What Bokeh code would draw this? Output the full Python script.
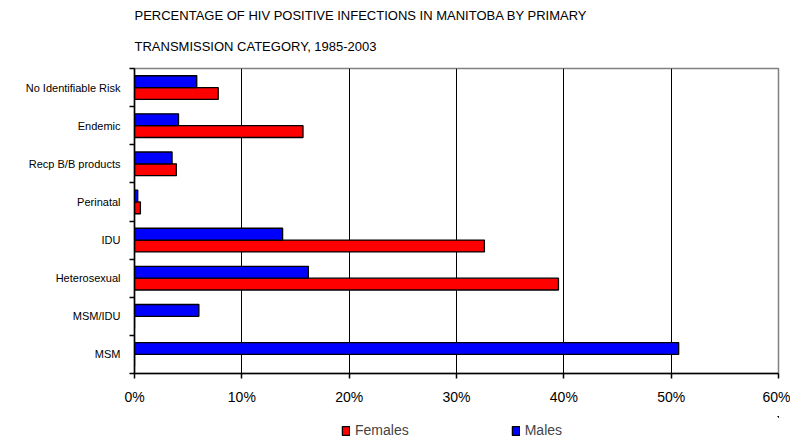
from bokeh.plotting import figure
from bokeh.layouts import column
from bokeh.models import (ColumnDataSource, Range1d, FixedTicker,
                          NumeralTickFormatter, Title, Legend, LegendItem)
from bokeh.embed import file_html
from bokeh.resources import INLINE

# Categories bottom to top
categories = ["MSM", "MSM/IDU", "Heterosexual", "IDU", "Perinatal",
              "Recp B/B products", "Endemic", "No Identifiable Risk"]
females = [0.0, 0.0, 0.395, 0.326, 0.0055, 0.039, 0.157, 0.078]
males = [0.507, 0.060, 0.162, 0.138, 0.003, 0.035, 0.041, 0.058]
x_ticks = [0, 0.1, 0.2, 0.3, 0.4, 0.5, 0.6]
series_names = ["Females", "Males"]
series_colors = ["#ff0000", "#0000ff"]

n = len(categories)
centers = [i + 0.5 for i in range(n)]
BAR_H = 0.31
src = ColumnDataSource(dict(cat=categories, females=females, males=males,
                            yf=[c - BAR_H / 2 for c in centers],
                            ym=[c + BAR_H / 2 for c in centers]))

FONT = "Liberation Sans"
W = 790
LEFT, RIGHT = 134, 12

p = figure(width=W, height=413, y_range=Range1d(0, n),
           x_range=Range1d(0, 0.6), output_backend="svg", toolbar_location=None,
           min_border_left=LEFT, min_border_right=RIGHT, min_border_top=68, min_border_bottom=40)

p.hbar(y="yf", right="females", height=BAR_H, left=0,
       source=src, fill_color=series_colors[0], line_color="black", line_width=1.3)
p.hbar(y="ym", right="males", height=BAR_H, left=0,
       source=src, fill_color=series_colors[1], line_color="black", line_width=1.3)

# x axis
p.xaxis.ticker = FixedTicker(ticks=x_ticks)
p.xaxis.formatter = NumeralTickFormatter(format="0%")
p.xaxis.major_label_text_font = FONT
p.xaxis.major_label_text_font_size = "14px"
p.xaxis.major_label_text_color = "black"
p.xaxis.axis_line_color = "black"
p.xaxis.axis_line_width = 1.5
p.xaxis.major_tick_line_color = "black"
p.xaxis.major_tick_line_width = 1.5
p.xaxis.major_tick_out = 5
p.xaxis.major_tick_in = 0
p.xaxis.minor_tick_line_color = None
p.xaxis.major_label_standoff = 10

# y axis: labels at band centres, tick marks at band boundaries
p.yaxis.ticker = FixedTicker(ticks=centers, minor_ticks=list(range(n + 1)))
p.yaxis.major_label_overrides = {c: name for c, name in zip(centers, categories)}
p.yaxis.major_label_text_font = FONT
p.yaxis.major_label_text_font_size = "11px"
p.yaxis.major_label_text_color = "black"
p.yaxis.major_tick_line_color = None
p.yaxis.minor_tick_line_color = "black"
p.yaxis.minor_tick_line_width = 1.5
p.yaxis.minor_tick_out = 5
p.yaxis.minor_tick_in = 0
p.yaxis.axis_line_color = "black"
p.yaxis.axis_line_width = 1.5
p.yaxis.major_label_standoff = 8

# grid
p.ygrid.grid_line_color = None
p.xgrid.grid_line_color = "black"
p.xgrid.grid_line_width = 1
p.xgrid.ticker = FixedTicker(ticks=x_ticks[1:-1])
p.outline_line_color = "#808080"
p.outline_line_width = 1.5

# titles
p.title.visible = False
t2 = Title(text="TRANSMISSION CATEGORY, 1985-2003", text_font=FONT, text_font_size="13px",
           text_font_style="normal", text_color="black", align="left", standoff=29)
t1 = Title(text="PERCENTAGE OF HIV POSITIVE INFECTIONS IN MANITOBA BY PRIMARY", text_font=FONT,
           text_font_size="13px", text_font_style="normal", text_color="black", align="left",
           standoff=0)
p.add_layout(t2, "above")
p.add_layout(t1, "above")

# legend strip below the chart (its renderers use the same data, kept out of view)
lg = figure(width=W, height=27, x_range=Range1d(-11, -10), y_range=Range1d(-2, -1),
            output_backend="svg", toolbar_location=None,
            x_axis_location=None, y_axis_location=None,
            min_border_left=LEFT, min_border_right=RIGHT, min_border_top=3, min_border_bottom=0)
lg.outline_line_color = None
lg.grid.grid_line_color = None
lf = lg.hbar(y="yf", right="females", height=BAR_H, left=0, source=src,
             fill_color=series_colors[0], line_color="black", line_width=1.3)
lm = lg.hbar(y="ym", right="males", height=BAR_H, left=0, source=src,
             fill_color=series_colors[1], line_color="black", line_width=1.3)

legend = Legend(items=[LegendItem(label=series_names[0], renderers=[lf]),
                       LegendItem(label=series_names[1], renderers=[lm])],
                orientation="horizontal", location=(207, 2),
                label_text_font=FONT, label_text_font_size="14px",
                glyph_width=9, glyph_height=11, label_height=14, label_standoff=5, spacing=102,
                border_line_color=None, background_fill_alpha=0, margin=0, padding=0)
lg.add_layout(legend, "center")

layout = column(p, lg, spacing=0)
open("out.html", "w").write(file_html(layout, INLINE))
